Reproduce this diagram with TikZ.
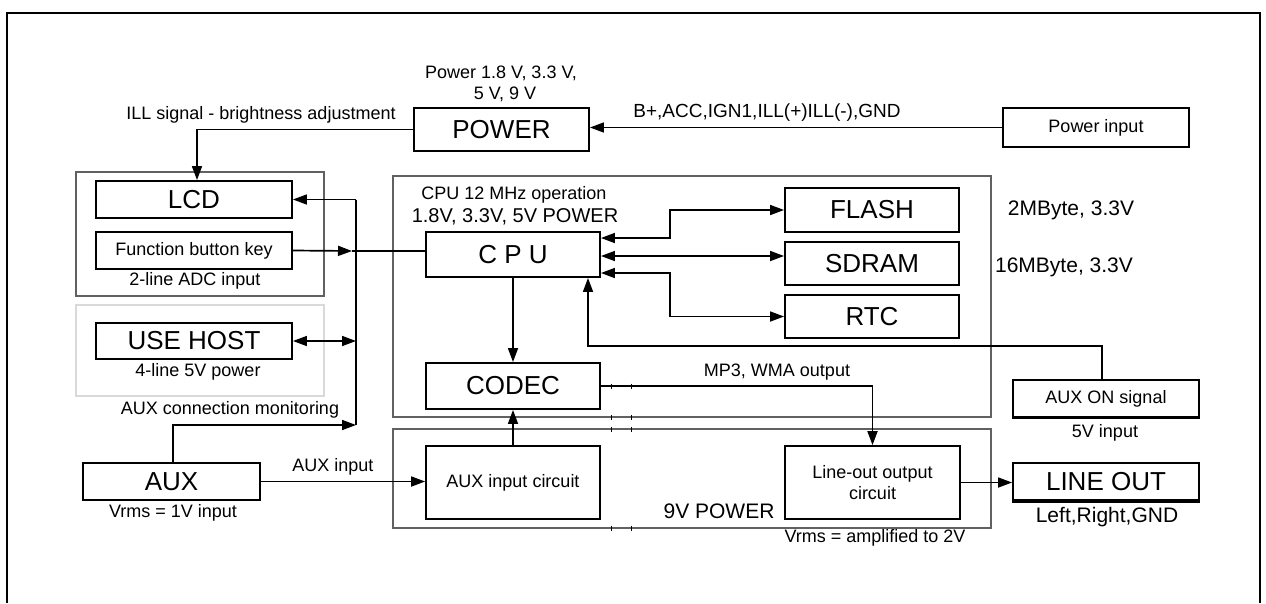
\documentclass[tikz,border=0pt]{standalone}
\usepackage{fontspec}
\setmainfont{Liberation Sans}
\usetikzlibrary{arrows.meta}
\begin{document}
\begin{tikzpicture}[x=1pt,y=-1pt,
  blk/.style={draw, line width=1.9pt, inner sep=0pt, font=\fontsize{26}{28}\selectfont},
  sbox/.style={draw, line width=1.7pt, inner sep=0pt, align=center, font=\fontsize{18}{21}\selectfont},
  grp/.style={draw=black!62, line width=2.7pt},
  lgrp/.style={draw=black!15, line width=2pt},
  lbl/.style={inner sep=0pt, font=\fontsize{18}{20}\selectfont},
  mlbl/.style={inner sep=0pt, font=\fontsize{21}{23}\selectfont},
  con/.style={line width=1.7pt},
  tip/.tip={Triangle[length=14pt,width=10pt]},
  arr/.style={con, -tip},
  darr/.style={con, tip-tip},
  tick/.style={line width=1pt}]
\useasboundingbox (0,0) rectangle (1266,603);
% outer frame (open at the bottom)
\draw[line width=2.2pt] (7,603) -- (7,13) -- (1260,13) -- (1260,603);

% group boxes
\draw[grp] (76,172) rectangle (324,296);
\draw[lgrp] (76,305) rectangle (324,396);
\draw[grp] (393,176) rectangle (991,417);
\draw[grp] (393,429) rectangle (991,528);

% blocks
\node[blk, minimum width=175pt, minimum height=43pt] (power) at (501.5,129.5) {POWER};
\node[sbox, minimum width=186pt, minimum height=39pt] (pin) at (1096,127.5) {Power input};
\node[blk, minimum width=196pt, minimum height=37pt] (lcd) at (194,199.5) {LCD};
\node[sbox, minimum width=196pt, minimum height=37pt] (fbk) at (194,250.5) {Function\ button\ key};
\node[blk, minimum width=196pt, minimum height=36pt] (host) at (194,341) {USE HOST};
\node[blk, minimum width=177pt, minimum height=37pt] (aux) at (171.5,481.5) {AUX};
\node[blk, minimum width=174pt, minimum height=45pt] (cpu) at (513,254.5) {C P U};
\node[blk, minimum width=174pt, minimum height=44pt] (flash) at (872,210) {FLASH};
\node[blk, minimum width=174pt, minimum height=43pt] (sdram) at (872,263.5) {SDRAM};
\node[blk, minimum width=174pt, minimum height=43pt] (rtc) at (872,316.5) {RTC};
\node[blk, minimum width=174pt, minimum height=46pt] (codec) at (513,386) {CODEC};
\node[sbox, minimum width=174pt, minimum height=73pt] (auxin) at (513,482.5) {AUX input circuit};
\node[sbox, minimum width=175pt, minimum height=73pt] (loc) at (872.5,482.5) {Line-out output\\circuit};
\node[sbox, minimum width=186pt, minimum height=37pt] (auxon) at (1106,398.5) {AUX ON signal};
\node[blk, minimum width=186pt, minimum height=37pt] (lineout) at (1106,481.5) {LINE OUT};
\draw[line width=3.2pt] (auxon.south west) -- (auxon.south east);
\draw[line width=3.2pt] (lineout.south west) -- (lineout.south east);

% labels
\node[lbl] (l1) at (501,73) {Power 1.8 V, 3.3 V,};
\node[lbl] (l2) at (505,94) {5 V, 9 V};
\node[lbl] (l3) at (261,115) {ILL signal - brightness adjustment};
\node[inner sep=0pt, font=\fontsize{19}{21}\selectfont] (l4) at (767,113) {B+,ACC,IGN1,ILL(+)ILL(-),GND};
\node[lbl] (l5) at (195,281) {2-line ADC input};
\node[lbl] (l6) at (198,372) {4-line 5V power};
\node[lbl] (l7) at (230,410) {AUX connection monitoring};
\node[lbl] (l8) at (173,513) {Vrms = 1V input};
\node[lbl] (l9) at (333,467) {AUX input};
\node[lbl] (l10) at (514,195) {CPU 12 MHz operation};
\node[inner sep=0pt, font=\fontsize{20}{22}\selectfont] (l11) at (515,217) {1.8V, 3.3V, 5V POWER};
\node[mlbl] (l12) at (1071,210) {2MByte, 3.3V};
\node[mlbl] (l13) at (1064,267) {16MByte, 3.3V};
\node[lbl] (l14) at (777,372) {MP3, WMA output};
\node[lbl] (l15) at (1105,433) {5V input};
\node[mlbl] (l16) at (719,511) {9V POWER};
\node[mlbl] (l17) at (1107,517) {Left,Right,GND};
\node[lbl] (l18) at (875,538) {Vrms = amplified to 2V};

% bus coordinates
\coordinate (busT) at (356,199.5);
\coordinate (busB) at (356,425);
\coordinate (fbkA) at (352,251);
\coordinate (aonK) at (588,346);
\coordinate (fk) at (670,0);

% connectors
\draw[arr] (pin.west) -- (pin.west -| power.east);
\draw[arr] (power.west) -| ([xshift=3pt]lcd.north);
\draw[con] (busT) -- (busB);
\draw[arr] (busT) -- (lcd.east);
\draw[arr] (fbk.east) -- (fbkA);
\draw[con] (fbkA) -- (fbkA -| cpu.west);
\draw[darr] (host.east) -- (host.east -| busT);
\draw[arr] ([xshift=1.5pt]aux.north) |- (busB);
\draw[arr] (aux.east) -- (aux.east -| auxin.west);
\draw[arr] (cpu.south) -- (codec.north);
\draw[arr] (auxin.north) -- (codec.south);
\draw[darr] ([yshift=16.5pt]cpu.east) -| (fk |- flash.west) -- (flash.west);
\draw[darr] ([yshift=-1.5pt]cpu.east) -- ([yshift=-1.5pt]cpu.east -| sdram.west);
\draw[darr] ([yshift=-18.5pt]cpu.east) -| (fk |- rtc.west) -- (rtc.west);
\draw[arr] ([xshift=-4pt]auxon.north) |- (aonK) -- (aonK |- cpu.south);
\draw[arr] (codec.east) -| (loc.north);
\draw[arr] (loc.east) -- (loc.east -| lineout.west);

% small tick marks
\foreach \yy in {386,417,429,528}{
  \draw[tick] (611,\yy-2.5) -- (611,\yy+2.5);
  \draw[tick] (631,\yy-2.5) -- (631,\yy+2.5);
}
\end{tikzpicture}
\end{document}
